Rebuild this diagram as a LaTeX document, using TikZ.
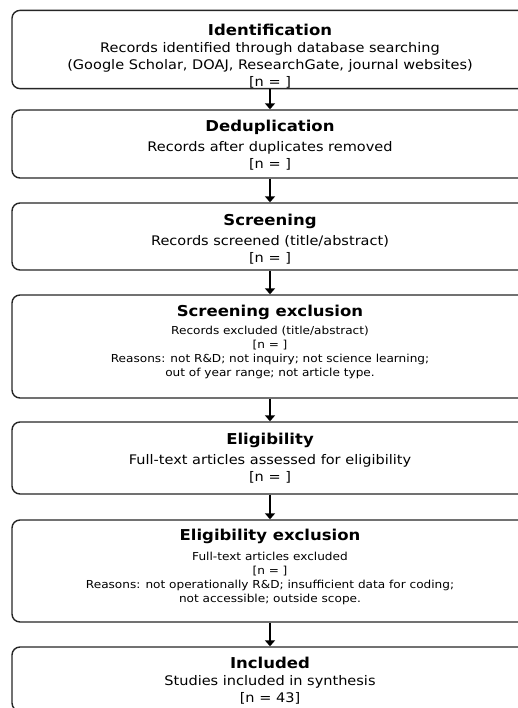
\documentclass[tikz,border=0pt]{standalone}
\usepackage{fontspec}
\setmainfont[FakeStretch=1.1]{DejaVu Sans}
\usetikzlibrary{arrows.meta}

\newcommand{\hd}[2][0pt]{{\fontsize{15}{17}\selectfont\bfseries\rule{0pt}{#1}#2}}
\newcommand{\sm}{\fontsize{11}{14}\selectfont}
\newcommand{\pushup}[1]{\rule[-#1]{0pt}{0pt}}

\begin{document}
\begin{tikzpicture}[
    x=1pt, y=-1pt,
    box/.style={rectangle, rounded corners=8pt, draw=black!85, line width=1.4pt, fill=white,
                minimum width=516pt, align=center, inner sep=0pt,
                font=\fontsize{13.2}{17}\selectfont},
    arr/.style={-{Triangle[length=6pt, width=10pt]}, line width=1.8pt},
]
\useasboundingbox (0,0) rectangle (518,708);
\clip (0,0) rectangle (518,708);

\node[box, minimum height=73pt] (ident) at (270,49.5) {\hd[25.5pt]{Identification}\\ Records identified through database searching\\ (Google Scholar, DOAJ, ResearchGate, journal websites)\\ {}[n = ]};
\node[box, minimum height=68pt] (dedup) at (270,144) {\hd[14.5pt]{Deduplication}\\[3pt] Records after duplicates removed\\ {}[n = ]};
\node[box, minimum height=67pt] (screen) at (270,236.5) {\hd[16.5pt]{Screening}\\[3pt] Records screened (title/abstract)\\ {}[n = ]};
\node[box, minimum height=103pt] (screx) at (270,346.5) {\hd{Screening exclusion}\\[1pt] {\sm Records excluded (title/abstract)}\\[-3pt] {\sm [n = ]}\\[-3pt] {\sm Reasons: not R\&D; not inquiry; not science learning;}\\[-3pt] {\sm out of year range; not article type.\pushup{10.5pt}}};
\node[box, minimum height=72pt] (elig) at (270,458) {\hd{Eligibility}\\[3pt] Full-text articles assessed for eligibility\\ {}[n = ]};
\node[box, minimum height=102pt] (eligex) at (270,571) {\hd{Eligibility exclusion}\\[3pt] {\sm Full-text articles excluded}\\[-3pt] {\sm [n = ]}\\[-3pt] {\sm Reasons: not operationally R\&D; insufficient data for coding;}\\[-3pt] {\sm not accessible; outside scope.\pushup{10.5pt}}};
\node[box, minimum height=64pt] (incl) at (270,679) {\hd[15.5pt]{Included}\\ Studies included in synthesis\\ {}[n = 43]};

\draw[arr] (ident) -- (dedup);
\draw[arr] (dedup) -- (screen);
\draw[arr] (screen) -- (screx);
\draw[arr] (screx) -- (elig);
\draw[arr] (elig) -- (eligex);
\draw[arr] (eligex) -- (incl);

\end{tikzpicture}
\end{document}
